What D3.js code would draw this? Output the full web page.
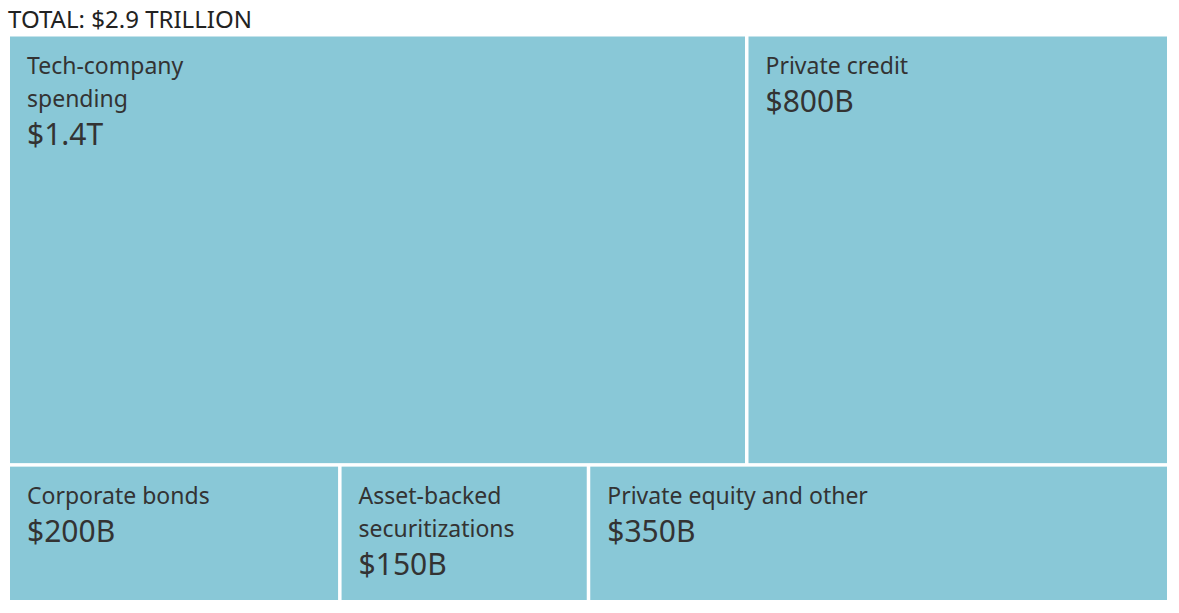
<!DOCTYPE html>
<html>
<head>
<meta charset="utf-8">
<script src="https://cdn.jsdelivr.net/npm/d3@7"></script>
<style>
  body { margin: 0; background: #fff; }
  svg { display: block; }
  text { font-family: "Noto Sans", "Open Sans", sans-serif; }
</style>
</head>
<body>
<svg id="chart" width="1179" height="613"></svg>
<script>
// Financing sources, in billions of dollars
const title = 'TOTAL: $2.9 TRILLION';
const labelLines = [
    ['Tech-company', 'spending'],
    ['Private credit'],
    ['Corporate bonds'],
    ['Asset-backed', 'securitizations'],
    ['Private equity and other']
];
const valuesB = [1400, 800, 200, 150, 350];
const valueLabels = ['$1.4T', '$800B', '$200B', '$150B', '$350B'];
const rowIndex = [0, 0, 1, 1, 1];

const svg = d3.select('#chart');

// Build a two-level hierarchy: rows, then the items in each row
const rowsData = [0, 1].map(r => ({
    children: valuesB
        .map((v, i) => ({ lines: labelLines[i], value: v, valueLabel: valueLabels[i], row: rowIndex[i] }))
        .filter(d => d.row === r)
}));

const root = d3.hierarchy({ children: rowsData })
    .sum(d => d.children ? 0 : d.value);

// Rows stacked top to bottom, items side by side
const tile = (node, x0, y0, x1, y1) => {
    if (node.depth === 0) d3.treemapSlice(node, x0, y0, x1, y1);
    else d3.treemapDice(node, x0, y0, x1, y1);
};

d3.treemap()
    .tile(tile)
    .size([1157, 563.5])
    .paddingInner(3.5)
    .round(false)(root);

svg.append('text')
    .attr('x', 8)
    .attr('y', 28)
    .attr('fill', '#222')
    .attr('font-size', 23.5)
    .attr('textLength', 244)
    .attr('lengthAdjust', 'spacingAndGlyphs')
    .text(title);

const g = svg.append('g').attr('transform', 'translate(10,36.5)');

const cells = g.selectAll('.cell')
    .data(root.leaves())
    .enter()
    .append('g')
    .attr('class', 'cell')
    .attr('transform', d => `translate(${d.x0},${d.y0})`);

cells.append('rect')
    .attr('width', d => d.x1 - d.x0)
    .attr('height', d => d.y1 - d.y0)
    .attr('fill', '#89c8d7');

cells.each(function (d) {
    const cell = d3.select(this);
    d.data.lines.forEach((line, i) => {
        cell.append('text')
            .attr('x', 17)
            .attr('y', 37 + i * 33)
            .attr('fill', '#333')
            .attr('font-size', 23)
            .text(line);
    });
    cell.append('text')
        .attr('x', 17)
        .attr('y', 37 + (d.data.lines.length - 1) * 33 + 38)
        .attr('fill', '#333')
        .attr('font-size', 30)
        .text(d.data.valueLabel);
});
</script>
</body>
</html>
